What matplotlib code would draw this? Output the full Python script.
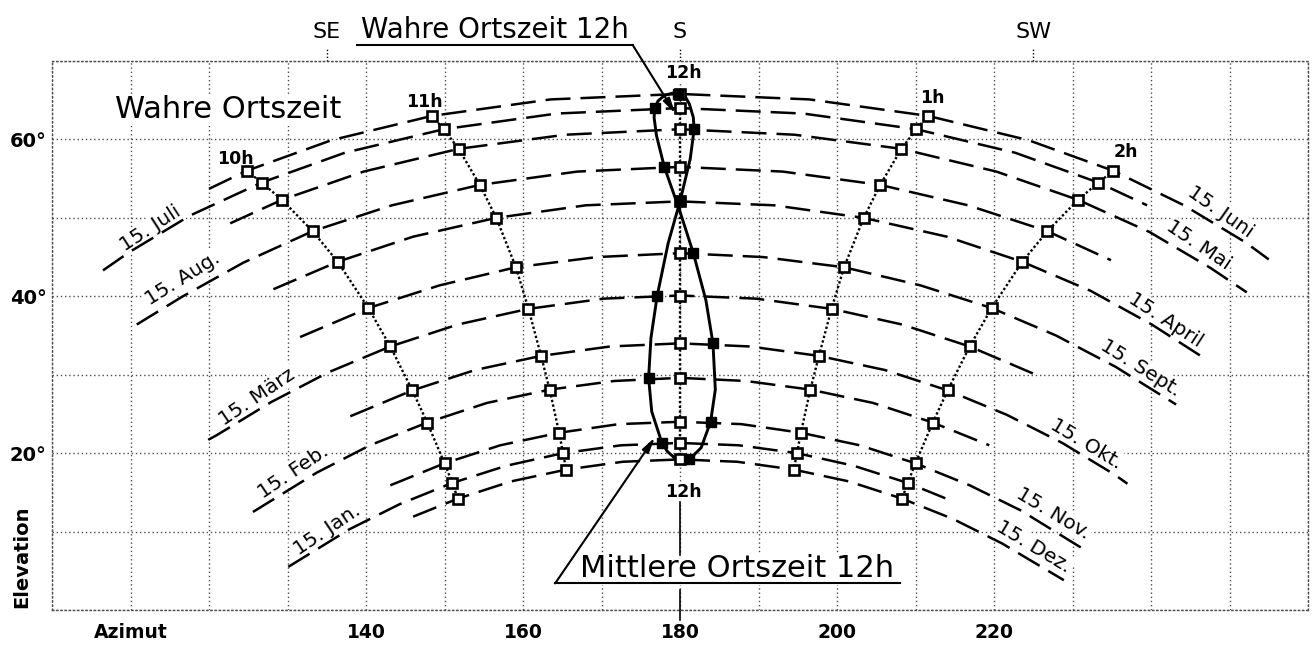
import matplotlib
matplotlib.use("Agg")
import matplotlib.pyplot as plt

# Tagesbahnen der Sonne am 15. jedes Monats (Azimut / Elevation in Grad)
juni_az = [120.0, 124.8, 135.6, 148.4, 163.5, 180.0, 196.5, 211.6, 224.4, 235.2, 244.2, 252.0, 255.0]
juni_el = [53.7, 56.0, 59.9, 63.0, 65.1, 65.8, 65.1, 63.0, 59.9, 56.0, 51.6, 46.9, 44.7]
juli_az = [106.5, 109.8, 117.6, 126.7, 137.3, 149.9, 164.3, 180.0, 195.7, 210.1, 222.7, 233.3, 239.5]
juli_el = [43.3, 45.6, 50.3, 54.5, 58.3, 61.3, 63.3, 64.0, 63.3, 61.3, 58.3, 54.5, 51.6]
mai_az = [122.7, 129.3, 139.7, 151.8, 165.4, 180.0, 194.6, 208.2, 220.3, 230.7, 239.8, 247.6, 252.2]
mai_el = [49.3, 52.3, 55.9, 58.8, 60.6, 61.3, 60.6, 58.8, 55.9, 52.3, 48.2, 43.6, 40.5]
aug_az = [110.8, 116.5, 124.4, 133.2, 143.3, 154.5, 166.9, 180.0, 193.1, 205.5, 216.7, 226.8, 234.9]
aug_el = [36.4, 39.9, 44.3, 48.3, 51.6, 54.2, 55.9, 56.5, 55.9, 54.2, 51.6, 48.3, 44.6]
april_az = [128.2, 136.4, 146.0, 156.6, 168.0, 180.0, 192.0, 203.4, 214.0, 223.6, 232.3, 240.1, 246.8]
april_el = [40.9, 44.4, 47.6, 50.0, 51.6, 52.1, 51.6, 50.0, 47.6, 44.4, 40.7, 36.4, 32.1]
sept_az = [131.6, 140.3, 149.4, 159.1, 169.4, 180.0, 190.6, 200.9, 210.6, 219.7, 227.9, 235.5, 243.2]
sept_el = [34.8, 38.5, 41.4, 43.7, 45.0, 45.5, 45.0, 43.7, 41.4, 38.5, 35.0, 31.0, 26.2]
maerz_az = [119.9, 121.0, 127.9, 135.2, 143.1, 151.7, 160.7, 170.3, 180.0, 189.7, 199.3, 208.3, 216.9, 225.1]
maerz_el = [21.7, 22.3, 26.5, 30.3, 33.6, 36.4, 38.4, 39.7, 40.1, 39.7, 38.4, 36.4, 33.6, 30.1]
okt_az = [138.0, 145.9, 153.9, 162.3, 171.1, 180.0, 188.9, 197.7, 206.1, 214.1, 221.6, 228.7, 235.3, 237.0]
okt_el = [24.7, 28.0, 30.6, 32.4, 33.6, 34.0, 33.6, 32.4, 30.6, 28.0, 24.9, 21.3, 17.3, 16.1]
feb_az = [125.6, 133.7, 140.5, 147.8, 155.4, 163.4, 171.6, 180.0, 188.4, 196.6, 204.6, 212.2, 219.4]
feb_el = [12.5, 17.5, 21.0, 23.9, 26.4, 28.1, 29.2, 29.6, 29.2, 28.1, 26.4, 23.9, 21.0]
nov_az = [143.1, 150.0, 157.1, 164.6, 172.2, 180.0, 187.8, 195.4, 202.9, 210.0, 216.9, 223.4, 231.5]
nov_el = [15.9, 18.7, 21.0, 22.6, 23.7, 24.0, 23.7, 22.6, 21.0, 18.7, 15.9, 12.7, 7.7]
jan_az = [130.1, 137.9, 144.3, 151.0, 157.9, 165.1, 172.5, 180.0, 187.5, 194.9, 202.1, 209.0, 214.9]
jan_el = [5.5, 10.3, 13.5, 16.2, 18.4, 20.0, 21.0, 21.3, 21.0, 20.0, 18.4, 16.2, 13.8]
dez_az = [146.0, 151.7, 158.5, 165.5, 172.7, 180.0, 187.3, 194.5, 201.5, 208.3, 214.8, 221.0, 228.9]
dez_el = [11.9, 14.2, 16.4, 17.9, 18.9, 19.2, 18.9, 17.9, 16.4, 14.2, 11.6, 8.5, 3.8]

# Stundenlinien wahre Ortszeit (Punkte Juni ... Dezember)
h10_az = [124.8, 126.7, 129.3, 133.2, 136.4, 140.3, 143.1, 145.9, 147.8, 150.0, 151.0, 151.7]
h10_el = [56.0, 54.5, 52.3, 48.3, 44.4, 38.5, 33.6, 28.0, 23.9, 18.7, 16.2, 14.2]
h11_az = [148.4, 149.9, 151.8, 154.5, 156.6, 159.1, 160.7, 162.3, 163.4, 164.6, 165.1, 165.5]
h11_el = [63.0, 61.3, 58.8, 54.2, 50.0, 43.7, 38.4, 32.4, 28.1, 22.6, 20.0, 17.9]
h12_az = [180.0, 180.0, 180.0, 180.0, 180.0, 180.0, 180.0, 180.0, 180.0, 180.0, 180.0, 180.0]
h12_el = [65.8, 64.0, 61.3, 56.5, 52.1, 45.5, 40.1, 34.0, 29.6, 24.0, 21.3, 19.2]
h13_az = [211.6, 210.1, 208.2, 205.5, 203.4, 200.9, 199.3, 197.7, 196.6, 195.4, 194.9, 194.5]
h13_el = [63.0, 61.3, 58.8, 54.2, 50.0, 43.7, 38.4, 32.4, 28.1, 22.6, 20.0, 17.9]
h14_az = [235.2, 233.3, 230.7, 226.8, 223.6, 219.7, 216.9, 214.1, 212.2, 210.0, 209.0, 208.3]
h14_el = [56.0, 54.5, 52.3, 48.3, 44.4, 38.5, 33.6, 28.0, 23.9, 18.7, 16.2, 14.2]

# Analemma: mittlere Ortszeit 12h (Jan. 1 ... Dez. 22, geschlossen)
ana_az = [179.2, 178.4, 177.7, 176.4, 176.0, 176.3, 177.1, 178.5, 180.0, 181.3, 181.8, 181.7,
          181.2, 180.7, 179.8, 179.0, 178.0, 177.2, 176.8, 176.7, 177.0, 178.0, 180.0, 181.7,
          183.3, 184.2, 184.5, 183.9, 182.7, 181.2, 180.4, 179.2]
ana_el = [19.5, 20.2, 21.3, 25.3, 29.6, 34.7, 40.1, 46.8, 52.1, 57.5, 61.3, 62.8,
          64.5, 65.4, 65.8, 65.9, 65.6, 64.9, 64.0, 62.8, 60.5, 56.5, 50.8, 45.5,
          39.5, 34.0, 28.1, 24.0, 20.7, 19.2, 19.1, 19.5]
# Marken am 15. des Monats (Jan ... Dez)
ana15_az = [177.7, 176.0, 177.1, 180.0, 181.8, 179.8, 176.8, 178.0, 181.7, 184.2, 183.9, 181.2]
ana15_el = [21.3, 29.6, 40.1, 52.1, 61.3, 65.8, 64.0, 56.5, 45.5, 34.0, 24.0, 19.2]

day_curves = [(juni_az, juni_el), (juli_az, juli_el), (mai_az, mai_el), (aug_az, aug_el),
              (april_az, april_el), (sept_az, sept_el), (maerz_az, maerz_el), (okt_az, okt_el),
              (feb_az, feb_el), (nov_az, nov_el), (jan_az, jan_el), (dez_az, dez_el)]
hour_lines = [(h10_az, h10_el), (h11_az, h11_el), (h12_az, h12_el),
              (h13_az, h13_el), (h14_az, h14_el)]

date_labels = ["15. Juli", "15. Aug.", "15. März", "15. Feb.", "15. Jan.",
               "15. Juni", "15. Mai", "15. April", "15. Sept.", "15. Okt.", "15. Nov.", "15. Dez."]
date_pos = [(112.5, 48.6, 33), (116.7, 42.2, 32), (126.1, 27.2, 34), (130.7, 17.6, 34), (135.0, 10.2, 34),
            (248.9, 50.8, -35), (246.1, 46.5, -34), (241.9, 37.0, -33), (238.7, 30.8, -32),
            (231.8, 21.2, -31), (227.5, 12.3, -31), (225.1, 8.0, -31)]
hour_labels = ["10h", "11h", "12h", "1h", "2h"]
hour_pos = [(123.4, 56.9), (147.4, 64.1), (180.4, 67.8), (212.2, 64.7), (236.8, 57.7)]

xticks = list(range(100, 261, 10))
xlabels = {110: "Azimut", 140: "140", 160: "160", 180: "180", 200: "200", 220: "220"}
yticks = list(range(0, 71, 10))
ylabels = {20: "20°", 40: "40°", 60: "60°"}

fig = plt.figure(figsize=(13.14, 6.46), dpi=100)
ax = fig.add_axes([52 / 1314, 36 / 646, 1256 / 1314, 549 / 646])
ax.set_xlim(100, 260)
ax.set_ylim(0, 70)

dot = (0, (1, 2))
ax.set_xticks(xticks)
ax.set_xticklabels([xlabels.get(t, "") for t in xticks], fontsize=13.5, fontweight="bold")
ax.set_yticks(yticks)
ax.set_yticklabels([ylabels.get(t, "") for t in yticks], fontsize=14, fontweight="bold")
ax.tick_params(length=0)
ax.tick_params(axis="x", pad=9)
ax.tick_params(axis="y", pad=4)
ax.set_axisbelow(True)
ax.grid(True, color="0.3", lw=1.0, linestyle=dot)
for s in ax.spines.values():
    s.set_linestyle(dot)
    s.set_color("0.3")
    s.set_linewidth(1.0)

tbox = dict(facecolor="white", edgecolor="none", pad=1)

# Tagesbahnen
for az, el in day_curves:
    ax.plot(az, el, color="k", lw=1.8, linestyle=(0, (10, 4)), zorder=2)

# Stundenlinien
for az, el in hour_lines:
    ax.plot(az, el, color="k", lw=1.7, linestyle=(0, (1, 1)), zorder=3)
    ax.plot(az, el, "s", ms=6.5, mfc="white", mec="k", mew=1.9, zorder=5)

# Analemma
ax.plot(ana_az, ana_el, color="k", lw=2.1, zorder=4, solid_joinstyle="round")
ax.plot(ana15_az, ana15_el, "s", ms=6.5, mfc="k", mec="k", zorder=6)

for txt, (x, y, r) in zip(date_labels, date_pos):
    ax.text(x, y, txt, fontsize=14.5, rotation=r, rotation_mode="anchor",
            ha="center", va="center", zorder=1, bbox=tbox)

for txt, (x, y) in zip(hour_labels, hour_pos):
    ax.text(x, y, txt, fontsize=12.5, fontweight="bold", ha="center", va="baseline",
            zorder=1, bbox=tbox)

ax.text(122.4, 62.7, "Wahre Ortszeit", fontsize=22, ha="center", va="baseline",
        zorder=1, bbox=tbox)

# Himmelsrichtungen oben
for x, lab in [(135, "SE"), (180, "S"), (225, "SW")]:
    ax.text(x, 72.9, lab, fontsize=16, ha="center", va="baseline", clip_on=False)
    ax.plot([x, x], [70, 71.6], color="k", lw=1.0, linestyle=(0, (1, 1.5)), clip_on=False)

# Wahre Ortszeit 12h
ax.text(156.4, 72.9, "Wahre Ortszeit 12h", fontsize=20, ha="center", va="baseline")
ax.plot([138.9, 174.0], [72.0, 72.0], color="k", lw=1.5, clip_on=False)
ax.annotate("", xy=(179.4, 63.3), xytext=(174.0, 72.0), annotation_clip=False,
            arrowprops=dict(arrowstyle="-|>,head_length=0.9,head_width=0.22", color="k",
                            lw=1.5, shrinkA=0, shrinkB=0), zorder=7)

# Mittlere Ortszeit 12h
ax.text(180.4, 14.4, "12h", fontsize=12.5, fontweight="bold", ha="center", va="baseline",
        zorder=1, bbox=tbox)
ax.text(187.3, 4.2, "Mittlere Ortszeit 12h", fontsize=22, ha="center", va="baseline",
        zorder=1, bbox=tbox)
ax.plot([164.1, 208.0], [3.4, 3.4], color="k", lw=1.5, zorder=3)
ax.annotate("", xy=(176.8, 22.0), xytext=(164.1, 3.4),
            arrowprops=dict(arrowstyle="-|>,head_length=0.9,head_width=0.22", color="k",
                            lw=1.5, shrinkA=0, shrinkB=0), zorder=7)
ax.plot([180, 180], [13.8, 7.0], color="k", lw=1.2, zorder=3)
ax.plot([180, 180], [2.5, -1.3], color="k", lw=1.2, zorder=3, clip_on=False)

ax.text(96.2, 6.75, "Elevation", fontsize=14, fontweight="bold", rotation=90,
        ha="center", va="center", clip_on=False)

fig.savefig("out.png", dpi=100, facecolor="white")
